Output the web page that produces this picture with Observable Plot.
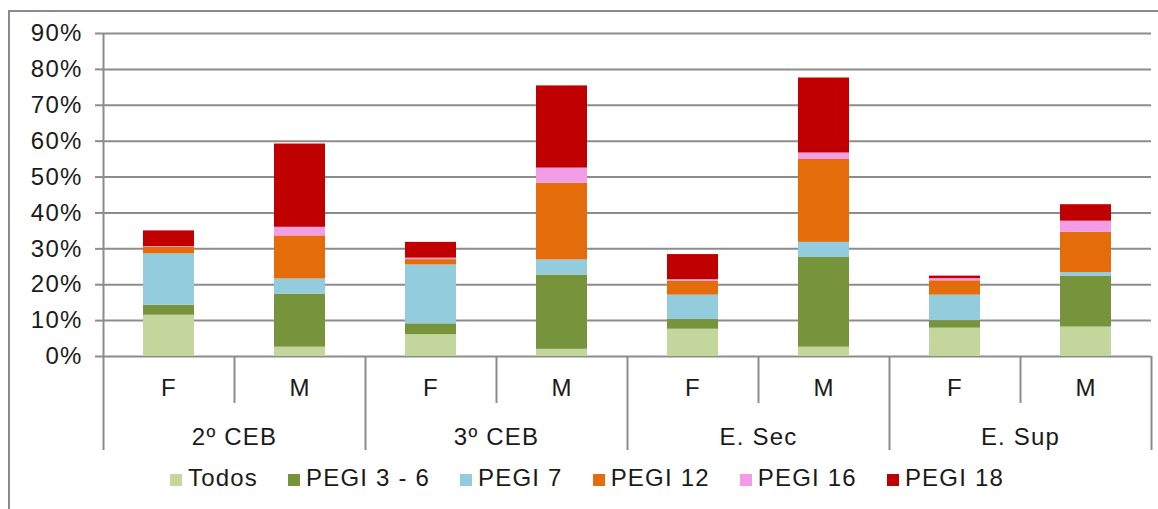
<!DOCTYPE html>
<html>
<head>
<meta charset="utf-8">
<script src="https://cdn.jsdelivr.net/npm/d3@7"></script>
<script src="https://cdn.jsdelivr.net/npm/@observablehq/plot@0.6"></script>
<style>
  body { margin: 0; background: #fff; }
  #wrap { position: relative; width: 1158px; height: 509px; overflow: hidden;
          font-family: "Liberation Sans", Arial, sans-serif; color: #1a1a1a; }
  #frame { position: absolute; left: 8px; top: 10px; width: 1300px; height: 700px;
           border-left: 2px solid #8a8a8a; border-top: 2px solid #8a8a8a; }
  #chart { position: absolute; left: 0; top: 0; }
  #legend { position: absolute; left: 8px; top: 464px; width: 1158px; display: flex;
            justify-content: center; font-size: 24px; letter-spacing: 1.2px; line-height: 28px; }
  .item { display: flex; align-items: center; margin: 0 15px; }
  .sw { width: 12px; height: 12px; margin-right: 6px; margin-top: 4px; }
</style>
</head>
<body>
<div id="wrap">
  <div id="frame"></div>
  <div id="chart"></div>
  <div id="legend"></div>
</div>
<script>
// ---- data ----
const groups = ["2º CEB", "3º CEB", "E. Sec", "E. Sup"];
const sexes = ["F", "M"];
const series = ["Todos", "PEGI 3 - 6", "PEGI 7", "PEGI 12", "PEGI 16", "PEGI 18"];
const colors = ["#c3d69b", "#77933c", "#93cddd", "#e46c0a", "#f29de6", "#c00000"];
// values (%) per bar, order: 2ºCEB F, 2ºCEB M, 3ºCEB F, 3ºCEB M, E.Sec F, E.Sec M, E.Sup F, E.Sup M
const todos  = [11.5,  2.6,  6.1,  2.0, 7.6,  2.6, 7.9,  8.2];
const pegi36 = [ 2.8, 14.8,  3.0, 20.7, 2.7, 25.0, 2.1, 14.1];
const pegi7  = [14.3,  4.2, 16.4,  4.2, 6.8,  4.2, 7.1,  1.1];
const pegi12 = [ 1.8, 12.0,  1.5, 21.4, 3.9, 23.1, 4.0, 11.2];
const pegi16 = [ 0.2,  2.4,  0.4,  4.2, 0.4,  1.8, 0.6,  3.1];
const pegi18 = [ 4.4, 23.2,  4.4, 22.9, 7.0, 20.9, 0.7,  4.6];
const yTicks = [0, 10, 20, 30, 40, 50, 60, 70, 80, 90];

// ---- build table ----
const valuesBySeries = [todos, pegi36, pegi7, pegi12, pegi16, pegi18];
const bars = [];
groups.forEach((g, gi) => sexes.forEach((s, si) => bars.push({key: g + "|" + s, group: g, sex: s, idx: gi * 2 + si})));
const keys = bars.map(d => d.key);
const rows = [];
bars.forEach(b => series.forEach((name, k) => rows.push({key: b.key, series: name, value: valuesBySeries[k][b.idx]})));

const W = 1158, H = 456, mL = 103, mR = 7, mT = 33, mB = H - 356;
const step = (W - mL - mR) / keys.length;
const lineColor = "#8c8c8c";
const textColor = "#1a1a1a";

const chart = Plot.plot({
  width: W, height: H,
  marginLeft: mL, marginRight: mR, marginTop: mT, marginBottom: mB,
  style: {fontFamily: '"Liberation Sans", Arial, sans-serif', fontSize: "24px", letterSpacing: "1.2px",
          background: "transparent", overflow: "visible", color: textColor},
  x: {domain: keys, paddingInner: 0.61, paddingOuter: 0.305, axis: null},
  y: {domain: [0, 90], axis: null},
  color: {domain: series, range: colors},
  marks: [
    Plot.ruleY(yTicks, {stroke: lineColor, strokeWidth: 2}),
    Plot.axisY(yTicks, {anchor: "left", tickSize: 8, tickPadding: 13, tickFormat: d => d + "%",
                         stroke: lineColor, strokeWidth: 2, fill: textColor, fontSize: 24, label: null}),
    Plot.barY(rows, {x: "key", y: "value", fill: "series"}),
    // left axis line + first group separator
    Plot.ruleX([keys[0]], {x: d => d, y1: d => 90, y2: d => 0, dx: -step / 2, insetBottom: -94, stroke: lineColor, strokeWidth: 2}),
    // group separators
    Plot.ruleX(bars.filter(d => d.sex === "F" && d.idx > 0), {x: "key", y1: d => 0, y2: d => 0, dx: -step / 2, insetBottom: -94, stroke: lineColor, strokeWidth: 2}),
    Plot.ruleX([keys[keys.length - 1]], {x: d => d, y1: d => 0, y2: d => 0, dx: step / 2, insetBottom: -94, stroke: lineColor, strokeWidth: 2}),
    // F / M separators
    Plot.ruleX(bars.filter(d => d.sex === "M"), {x: "key", y1: d => 0, y2: d => 0, dx: -step / 2, insetBottom: -47, stroke: lineColor, strokeWidth: 2}),
    // sub labels
    Plot.text(bars, {x: "key", y: d => 0, text: "sex", dy: 32, fontSize: 24, fill: textColor}),
    // group labels
    Plot.text(bars.filter(d => d.sex === "F"), {x: "key", y: d => 0, text: "group", dx: step / 2, dy: 81, fontSize: 24, fill: textColor})
  ]
});
document.getElementById("chart").appendChild(chart);

// ---- legend ----
const legend = document.getElementById("legend");
series.forEach((name, i) => {
  const item = document.createElement("div");
  item.className = "item";
  const sw = document.createElement("span");
  sw.className = "sw";
  sw.style.background = colors[i];
  const label = document.createElement("span");
  label.textContent = name;
  item.appendChild(sw);
  item.appendChild(label);
  legend.appendChild(item);
});
</script>
</body>
</html>
